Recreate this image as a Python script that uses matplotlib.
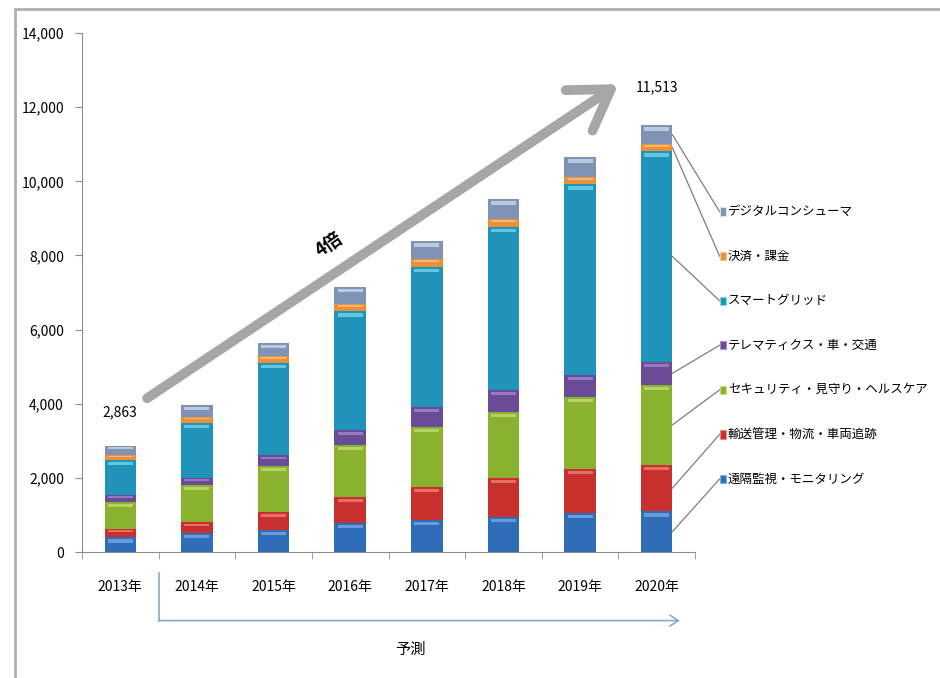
import matplotlib.pyplot as plt
from matplotlib.patches import Rectangle
import numpy as np

plt.rcParams['font.family'] = ['Noto Sans CJK JP', 'DejaVu Sans']

# data (unit unknown)
years = ["2013年", "2014年", "2015年", "2016年", "2017年", "2018年", "2019年", "2020年"]
labels = ["遠隔監視・モニタリング", "輸送管理・物流・車両追跡", "セキュリティ・見守り・ヘルスケア",
          "テレマティクス・車・交通", "スマートグリッド", "決済・課金", "デジタルコンシューマ"]
remote = [400, 510, 595, 780, 865, 950, 1050, 1100]
transport = [220, 300, 485, 710, 895, 1050, 1190, 1250]
security = [730, 1000, 1240, 1400, 1620, 1780, 1950, 2160]
telematics = [190, 190, 300, 410, 540, 600, 590, 625]
smartgrid = [950, 1490, 2480, 3190, 3780, 4400, 5140, 5675]
payment = [130, 160, 180, 190, 200, 200, 190, 190]
digital = [243, 320, 370, 480, 480, 530, 540, 513]
totals = [2863, 3970, 5650, 7160, 8380, 9510, 10650, 11513]

series = [remote, transport, security, telematics, smartgrid, payment, digital]
colors = ["#2f6db8", "#c7302c", "#8bb22e", "#6a4b98", "#1f93ba", "#e8913a", "#7f93b6"]
highlights = ["#7fb0ea", "#f08a80", "#c8e27a", "#a88fd0", "#7fdcf0", "#f8c890", "#d4e2f4"]

fig = plt.figure(figsize=(9.4, 6.78), dpi=100)
ax = fig.add_axes([0.0872, 0.1858, 0.6522, 0.7655])

x = np.arange(len(years))
w = 0.41
bottom = np.zeros(len(years))
for vals, c, hc in zip(series, colors, highlights):
    vals = np.array(vals, dtype=float)
    ax.bar(x, vals, w, bottom=bottom, color=c, edgecolor="none", zorder=2)
    # glossy strip at the top of each segment
    hh = np.minimum(vals * 0.25, 90)
    ax.bar(x, hh, w * 0.8, bottom=bottom + vals - hh * 1.6, color=hc, edgecolor="none",
           alpha=0.7, zorder=3)
    bottom += vals

ax.set_xlim(-0.5, 7.5)
ax.set_ylim(0, 14000)
ax.set_yticks(np.arange(0, 14001, 2000))
ax.set_yticklabels([f"{v:,}" for v in range(0, 14001, 2000)], fontsize=10)
ax.set_xticks(x)
ax.set_xticklabels(years, fontsize=10)
ax.set_xticks(np.arange(-0.5, 8, 1), minor=True)
ax.tick_params(axis="x", which="major", length=0, pad=20)
ax.tick_params(axis="x", which="minor", length=5, color="#8c8c8c")
ax.tick_params(axis="y", length=5, color="#8c8c8c", pad=8)
for s in ["top", "right"]:
    ax.spines[s].set_visible(False)
for s in ["left", "bottom"]:
    ax.spines[s].set_color("#8c8c8c")

# totals at both ends
ax.text(x[0], 3760, f"{totals[0]:,}", ha="center", va="center", fontsize=10)
ax.text(x[-1], 12540, f"{totals[-1]:,}", ha="center", va="center", fontsize=10)

# growth arrow
ax.annotate("", xy=(6.5, 12620), xytext=(0.35, 4150),
            arrowprops=dict(arrowstyle="->, head_length=1.1, head_width=0.7", lw=7,
                            color="#a6a6a6", mutation_scale=25, shrinkA=0, shrinkB=0),
            zorder=5)
ax.text(2.72, 8300, "4倍", rotation=35, ha="center", va="center", fontsize=13,
        fontweight="bold", zorder=6)

# legend with leader lines from the 2020 bar
mids = np.cumsum([s[-1] for s in series]) - np.array([s[-1] for s in series]) / 2
leg_y = [14000 * (0.656 - 0.0859 * (6 - i)) for i in range(7)]
for i in range(7):
    ax.plot([x[-1] + w / 2, 7.82], [mids[i], leg_y[i]], color="#7f7f7f", lw=0.9,
            clip_on=False, zorder=1)
    ax.add_patch(Rectangle((7.82, leg_y[i] - 110), 0.09, 220, facecolor=colors[i],
                           edgecolor=highlights[i], lw=0.8, clip_on=False))
    ax.text(7.93, leg_y[i], labels[i], ha="left", va="center", fontsize=9,
            clip_on=False)

# forecast bracket under the axis
bc = "#8eaac4"
ax.plot([0.5, 0.5], [-560, -1850], color=bc, lw=1.2, clip_on=False)
ax.annotate("", xy=(7.3, -1850), xytext=(0.5, -1850), annotation_clip=False,
            arrowprops=dict(arrowstyle="->, head_length=0.6, head_width=0.4", lw=1.2,
                            color=bc, shrinkA=0, shrinkB=0))
ax.text(3.79, -2620, "予測", ha="center", va="center", fontsize=11)

# outer frame
fig.patches.append(Rectangle((15 / 940, -0.1), 1.2, 1 - 9 / 678 + 0.1,
                             transform=fig.transFigure, fill=False,
                             edgecolor="#b0b0b0", lw=2))

fig.savefig("out.png", dpi=100)
